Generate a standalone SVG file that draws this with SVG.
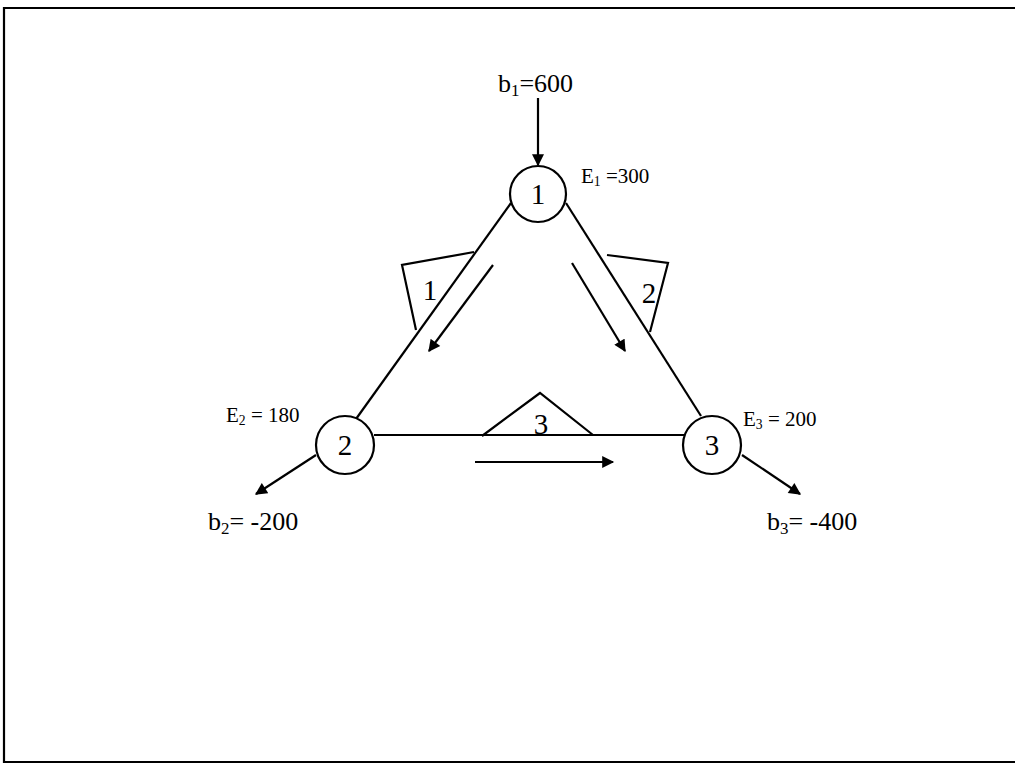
<svg xmlns="http://www.w3.org/2000/svg" width="1015" height="764" viewBox="0 0 1015 764">
<defs>
<marker id="ah" viewBox="0 0 10 10" refX="9" refY="5" markerWidth="13" markerHeight="12" markerUnits="userSpaceOnUse" orient="auto">
<path d="M0,0 L10,5 L0,10 z" fill="#000"/>
</marker>
<style>
.ln{stroke:#000;stroke-width:2.2;fill:none}
.ar{stroke:#000;stroke-width:2.2;fill:none;marker-end:url(#ah)}
.nd{stroke:#000;stroke-width:2.2;fill:#fff}
.t{font-family:"Liberation Serif",serif;fill:#000}
.nl{font-size:29px;text-anchor:middle}
.b{font-size:26px}
.e{font-size:21px}
.s{font-size:0.65em}
</style>
</defs>
<rect width="1015" height="764" fill="#fff"/>
<g id="frame">
<path class="ln" d="M4,763 L4,8 L1015,8"/>
<path class="ln" d="M4,762 L1015,762"/>
</g>
<g id="connectors">
<line class="ln" x1="511" y1="203" x2="356" y2="419"/>
<line class="ln" x1="566" y1="203" x2="701" y2="416"/>
<line class="ln" x1="374" y1="435" x2="684" y2="435"/>
<polyline class="ln" points="474,252 402,265 416,330"/>
<polyline class="ln" points="607,255 668,263 650,332"/>
<polyline class="ln" points="482,436 540,393 593,435"/>
<line class="ar" x1="493" y1="265" x2="429" y2="351"/>
<line class="ar" x1="572" y1="263" x2="625" y2="351"/>
<line class="ar" x1="475" y1="462" x2="613" y2="462"/>
<line class="ar" x1="538" y1="98" x2="538" y2="165"/>
<line class="ar" x1="316" y1="455" x2="256" y2="494"/>
<line class="ar" x1="742" y1="455" x2="800" y2="494"/>
<text class="t nl" x="430" y="300">1</text>
<text class="t nl" x="649" y="303">2</text>
<text class="t nl" x="541" y="434">3</text>
</g>
<g id="node1">
<circle class="nd" cx="538" cy="194" r="28"/>
<text class="t nl" x="538" y="204">1</text>
</g>
<g id="node2">
<circle class="nd" cx="345" cy="445" r="29"/>
<text class="t nl" x="345" y="455">2</text>
</g>
<g id="node3">
<circle class="nd" cx="712" cy="445" r="29"/>
<text class="t nl" x="712" y="455">3</text>
</g>
<g id="labels">
<text class="t b" x="498" y="92">b<tspan class="s" dy="4">1</tspan><tspan dy="-4">=600</tspan></text>
<text class="t e" x="581" y="183">E<tspan class="s" dy="3">1</tspan><tspan dy="-3"> =300</tspan></text>
<text class="t e" x="226" y="422">E<tspan class="s" dy="3">2</tspan><tspan dy="-3"> = 180</tspan></text>
<text class="t e" x="743" y="426">E<tspan class="s" dy="3">3</tspan><tspan dy="-3"> = 200</tspan></text>
<text class="t b" x="208" y="530">b<tspan class="s" dy="4">2</tspan><tspan dy="-4">= -200</tspan></text>
<text class="t b" x="767" y="530">b<tspan class="s" dy="4">3</tspan><tspan dy="-4">= -400</tspan></text>
</g>
</svg>
